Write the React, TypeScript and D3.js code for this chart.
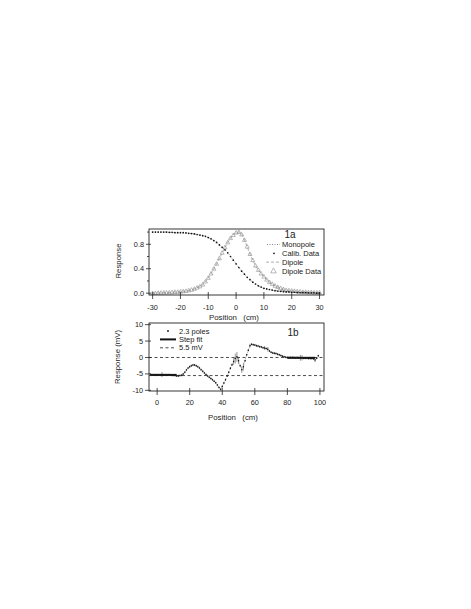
import React from 'react'
import * as d3 from 'd3'

// panel 1a: position (cm) and normalised response
const posA = [
  -30, -29, -28, -27, -26, -25, -24, -23, -22, -21, -20, -19, -18, -17, -16, -15, -14, -13, -12, -11, -10,
  -9, -8, -7, -6, -5, -4, -3, -2, -1, 0, 1, 2, 3, 4, 5, 6, 7, 8, 9, 10, 11, 12, 13, 14, 15, 16, 17, 18, 19,
  20, 21, 22, 23, 24, 25, 26, 27, 28, 29, 30,
]
const calibA = [
  1.0, 1.0, 1.0, 1.0, 1.0, 1.0, 0.995, 0.995, 0.99, 0.99, 0.99,
  0.99, 0.985, 0.98, 0.975, 0.97, 0.96, 0.95, 0.94, 0.93, 0.91, 0.89, 0.86, 0.83, 0.79, 0.75, 0.71, 0.66, 0.6, 0.54,
  0.48, 0.42, 0.36, 0.31, 0.26, 0.22, 0.18, 0.15, 0.12, 0.1, 0.08, 0.07, 0.06, 0.05, 0.04, 0.035, 0.03, 0.025, 0.02,
  0.02, 0.015, 0.015, 0.01, 0.01, 0.01, 0.01, 0.005, 0.005, 0.005, 0.0, 0.0,
]
const dipoleA = [
  0.0, 0.0, 0.005, 0.005, 0.01, 0.01, 0.01, 0.015, 0.02, 0.02, 0.025,
  0.03, 0.035, 0.045, 0.055, 0.07, 0.09, 0.11, 0.14, 0.19, 0.25, 0.32, 0.4, 0.48, 0.57, 0.66, 0.75, 0.83, 0.9, 0.95,
  0.99, 1.0, 0.96, 0.87, 0.76, 0.64, 0.54, 0.45, 0.38, 0.32, 0.27, 0.22, 0.18, 0.15, 0.12, 0.1, 0.08, 0.065, 0.05,
  0.045, 0.04, 0.035, 0.03, 0.025, 0.02, 0.02, 0.015, 0.015, 0.01, 0.01, 0.01,
]
const ticksAx = [-30, -20, -10, 0, 10, 20, 30]
const ticksAy = [0, 0.4, 0.8]
const minorAy = [0.2, 0.6, 1.0]
const legendA = ['Monopole', 'Calib. Data', 'Dipole', 'Dipole Data']

// panel 1b: 2.3 poles scan
const posB = [
  -4, -3, -2, -1, 0, 1, 2, 3, 4, 5, 6, 7, 8, 9, 10, 11, 12, 13, 14, 15,
  16, 17, 18, 19, 20, 21, 22, 23, 24, 25, 26, 27, 28, 29, 30, 31, 32, 33, 34, 35, 36, 37, 38, 39,
  40, 41, 42, 43, 44, 45, 46, 47, 48, 49, 50, 51, 52, 53, 54, 55, 56, 57, 58, 59,
  60, 61, 62, 63, 64, 65, 66, 67, 68, 69, 70, 71, 72, 73, 74, 75, 76, 77, 78, 79,
  80, 81, 82, 83, 84, 85, 86, 87, 88, 89, 90, 91, 92, 93, 94, 95, 96, 97, 98, 99,
]
const respB = [
  -5.2, -5.3, -5.3, -5.3, -5.3, -5.3, -5.3, -5.2, -5.3, -5.3, -5.3, -5.3, -5.3, -5.4, -5.4, -5.5, -5.6, -5.6, -5.5, -5.4,
  -5.0, -4.5, -3.8, -3.2, -2.8, -2.5, -2.3, -2.3, -2.5, -2.8, -3.2, -3.7, -4.2, -4.7, -5.2, -5.6, -6.0, -6.4, -6.8, -7.2, -7.7, -8.4, -9.1, -9.7,
  -8.8, -7.8, -6.8, -5.6, -4.5, -3.3, -2.2, -1.2, -0.3, 0.2, -1.0, -2.5, -3.7, -2.8, -1.0, 0.8, 2.2, 3.6, 4.0, 3.9,
  3.8, 3.6, 3.5, 3.3, 3.2, 3.0, 2.9, 2.7, 2.5, 2.0, 1.6, 1.4, 1.3, 1.2, 1.0, 0.8, 0.6, 0.4, 0.2, 0.1,
  0.0, 0.0, 0.0, 0.0, 0.0, -0.1, 0.0, -0.1, -0.1, -0.1, -0.2, -0.2, -0.2, -0.3, -0.3, -0.3, -0.4, -0.8, -0.2, 0.5,
]
const errDefault = 0.35
const errPos = [3, 47, 48, 49, 50, 52, 53, 57, 66, 68, 88, 89, 97]
const errSize = [0.8, 1.0, 1.5, 1.5, 1.0, 1.0, 1.2, 0.6, 0.6, 0.7, 0.9, 0.8, 0.6]
const stepStart = [-4, 80]
const stepEnd = [12, 97]
const stepLevel = [-5.3, -0.1]
const refLevels = [0, -5.5]
const ticksBx = [0, 20, 40, 60, 80, 100]
const ticksBy = [10, 5, 0, -5, -10]
const legendB = ['2.3 poles', 'Step fit', '5.5 mV']

const FONT = "'Liberation Sans', Arial, Helvetica, sans-serif"
const GREY = '#8a8a8a'

const tri = (cx: number, cy: number, s: number) =>
  `M${cx},${cy - s * 0.6}L${cx + s * 0.55},${cy + s * 0.4}L${cx - s * 0.55},${cy + s * 0.4}Z`

export default function App() {
  const left = 149
  const right = 324
  const xA = d3.scaleLinear().domain([-31.3, 31.6]).range([left, right])
  const yA = d3.scaleLinear().domain([-0.03, 1.05]).range([295, 229])
  const xB = d3.scaleLinear().domain([-5, 102.5]).range([left, right])
  const yB = d3.scaleLinear().domain([-10.2, 10.5]).range([391, 323])

  const lineA = d3
    .line<number>()
    .x((_, i) => xA(posA[i]))
    .curve(d3.curveMonotoneX)
  const monoPath = lineA.y((d) => yA(d))(calibA) || ''
  const dipPath = lineA.y((d) => yA(d))(dipoleA) || ''
  const linePath = d3
    .line<number>()
    .x((_, i) => xB(posB[i]))
    .y((d) => yB(d))(respB) || ''

  const errOf = (p: number) => {
    const k = errPos.indexOf(p)
    return k >= 0 ? errSize[k] : errDefault
  }

  const tickFont = { fontFamily: FONT, fontSize: 7.3, fill: '#222' }
  const labFont = { fontFamily: FONT, fontSize: 7.8, fill: '#222' }
  const legFont = { fontFamily: FONT, fontSize: 7.5, fill: '#222' }

  return (
    <svg width={471} height={609} style={{ position: 'absolute', left: 0, top: 0, background: '#fff' }}>
      {/* ---------- panel 1a ---------- */}
      <g>
        <path d={dipPath} fill="none" stroke={GREY} strokeWidth={0.7} strokeDasharray="3,2" />
        {dipoleA.map((d, i) => (
          <path key={'t' + i} d={tri(xA(posA[i]), yA(d), 3.6)} fill="none" stroke={GREY} strokeWidth={0.6} />
        ))}
        <path d={monoPath} fill="none" stroke="#333" strokeWidth={0.6} strokeDasharray="1,1.5" />
        {calibA.map((d, i) => (
          <circle key={'c' + i} cx={xA(posA[i])} cy={yA(d)} r={0.85} fill="#111" />
        ))}
        <rect x={left} y={229} width={right - left} height={66} fill="none" stroke="#222" strokeWidth={0.9} />
        {ticksAx.map((t) => (
          <g key={'ax' + t}>
            <line x1={xA(t)} x2={xA(t)} y1={292} y2={299} stroke="#222" strokeWidth={0.8} />
            <text x={xA(t)} y={309.5} textAnchor="middle" {...tickFont}>{String(t)}</text>
          </g>
        ))}
        {ticksAy.map((t) => (
          <g key={'ay' + t}>
            <line x1={left - 3} x2={left + 2} y1={yA(t)} y2={yA(t)} stroke="#222" strokeWidth={0.8} />
            <text x={left - 5} y={yA(t)} dy="0.35em" textAnchor="end" {...tickFont}>{t.toFixed(1)}</text>
          </g>
        ))}
        {minorAy.map((t) => (
          <line key={'my' + t} x1={left - 2} x2={left} y1={yA(t)} y2={yA(t)} stroke="#222" strokeWidth={0.8} />
        ))}
        <text x={234} y={320} textAnchor="middle" xmlSpace="preserve" style={{ whiteSpace: 'pre' }} {...labFont}>
          {'Position   (cm)'}
        </text>
        <text transform="translate(121,261) rotate(-90)" textAnchor="middle" {...labFont}>Response</text>

        {/* legend */}
        <text x={290} y={238} textAnchor="middle" fontFamily={FONT} fontSize={10} fill="#222">1a</text>
        {legendA.map((name, i) => {
          const y = 244.5 + i * 8.8
          return (
            <g key={name}>
              {i === 0 && <line x1={267} x2={280} y1={y} y2={y} stroke="#333" strokeWidth={0.6} strokeDasharray="1,1.5" />}
              {i === 1 && <circle cx={274} cy={y} r={0.85} fill="#111" />}
              {i === 2 && <line x1={266} x2={280} y1={y} y2={y} stroke={GREY} strokeWidth={0.7} strokeDasharray="3,2" />}
              {i === 3 && <path d={tri(273.5, y, 5)} fill="none" stroke={GREY} strokeWidth={0.6} />}
              <text x={282} y={y} dy="0.35em" {...legFont}>{name}</text>
            </g>
          )
        })}
      </g>

      {/* ---------- panel 1b ---------- */}
      <g>
        {refLevels.map((v) => (
          <line key={'r' + v} x1={left} x2={right} y1={yB(v)} y2={yB(v)} stroke="#222" strokeWidth={0.8} strokeDasharray="3,2.5" />
        ))}
        {stepStart.map((s, i) => (
          <line key={'s' + i} x1={xB(s)} x2={xB(stepEnd[i])} y1={yB(stepLevel[i])} y2={yB(stepLevel[i])} stroke="#111" strokeWidth={2} />
        ))}
        <path d={linePath} fill="none" stroke="#666" strokeWidth={0.5} strokeDasharray="1,1" />
        {respB.map((d, i) => {
          const e = errOf(posB[i])
          return (
            <g key={'b' + i}>
              <line x1={xB(posB[i])} x2={xB(posB[i])} y1={yB(d - e)} y2={yB(d + e)} stroke="#333" strokeWidth={0.5} />
              <circle cx={xB(posB[i])} cy={yB(d)} r={0.75} fill="#111" />
            </g>
          )
        })}
        <rect x={left} y={323} width={right - left} height={68} fill="none" stroke="#222" strokeWidth={0.9} />
        {ticksBx.map((t) => (
          <g key={'bx' + t}>
            <line x1={xB(t)} x2={xB(t)} y1={388} y2={395} stroke="#222" strokeWidth={0.8} />
            <text x={xB(t)} y={404.5} textAnchor="middle" {...tickFont}>{String(t)}</text>
          </g>
        ))}
        {ticksBy.map((t) => (
          <g key={'by' + t}>
            <line x1={left - 4} x2={left + 2} y1={yB(t)} y2={yB(t)} stroke="#222" strokeWidth={0.8} />
            <text x={left - 6} y={yB(t)} dy="0.35em" textAnchor="end" {...tickFont}>{String(t)}</text>
          </g>
        ))}
        <text x={233} y={420} textAnchor="middle" xmlSpace="preserve" style={{ whiteSpace: 'pre' }} {...labFont}>
          {'Position   (cm)'}
        </text>
        <text transform="translate(120,357) rotate(-90)" textAnchor="middle" {...labFont}>Response (mV)</text>

        {/* legend */}
        <text x={293} y={335.5} textAnchor="middle" fontFamily={FONT} fontSize={10} fill="#222">1b</text>
        {legendB.map((name, i) => {
          const y = 331 + i * 8.4
          return (
            <g key={name}>
              {i === 0 && <circle cx={168} cy={y} r={0.9} fill="#111" />}
              {i === 1 && <line x1={160} x2={176} y1={y} y2={y} stroke="#111" strokeWidth={2} />}
              {i === 2 && <line x1={160} x2={176} y1={y} y2={y} stroke="#222" strokeWidth={0.8} strokeDasharray="3,2.5" />}
              <text x={179} y={y} dy="0.35em" {...legFont}>{name}</text>
            </g>
          )
        })}
      </g>
    </svg>
  )
}
